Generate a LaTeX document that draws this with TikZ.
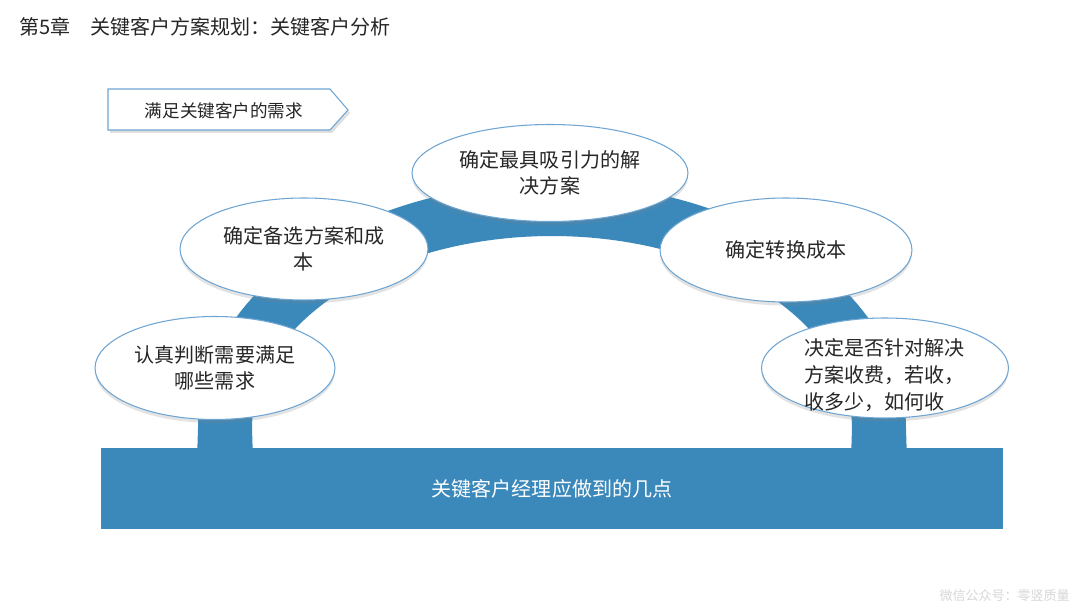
\documentclass[tikz,border=0pt]{standalone}
\usepackage{fontspec}
\setmainfont{Noto Sans CJK SC}
\usetikzlibrary{shapes.geometric,shapes.symbols,shadows}
\definecolor{mainblue}{RGB}{59,137,187}
\definecolor{edgeblue}{RGB}{110,165,210}
\definecolor{wmgray}{RGB}{215,215,215}
\begin{document}
\begin{tikzpicture}[x=0.02cm,y=-0.02cm,
  bubble/.style={ellipse,draw=edgeblue,line width=0.6pt,fill=white,
    inner sep=0pt,
    drop shadow={shadow xshift=0pt,shadow yshift=-2pt,opacity=0.22,fill=gray},
    font=\fontsize{11.4pt}{14.8pt}\selectfont,align=center,text=black!85},
  title/.style={anchor=west,font=\fontsize{11.4pt}{13pt}\selectfont,text=black!85}]
\useasboundingbox (0,0) rectangle (1080,608);
\fill[white] (0,0) rectangle (1080,608);
% title
\node[title] (ttl) at (13,27) {第5章　关键客户方案规划：关键客户分析};
% pentagon tag
\fill[gray,opacity=0.25] (110,92) -- (332,92) -- (350,113) -- (332,133) -- (110,133) -- cycle;
\draw[edgeblue,fill=white,line width=0.6pt] (108,89) -- (330,89) -- (348,110) -- (330,130) -- (108,130) -- cycle;
\node[font=\fontsize{10pt}{12pt}\selectfont,text=black!85] (tag) at (224,111) {满足关键客户的需求};
% arch band
\fill[mainblue] (197,460) -- (198,428)
  -- plot[domain=180:0,samples=90] ({552+354*cos(\x)},{428-245*sin(\x)})
  -- (907,460) -- (851,460) -- (852,428)
  -- plot[domain=0:180,samples=90] ({552+300*cos(\x)},{428-192*sin(\x)})
  -- (253,460) -- cycle;
% bottom bar
\fill[mainblue] (101,448) rectangle (1003,529);
\node[text=white,font=\fontsize{11.4pt}{13pt}\selectfont] (bar) at (552,489) {关键客户经理应做到的几点};
% bubbles
\node[bubble,minimum width=4.8cm,minimum height=2.06cm] (e1) at (215,368) {认真判断需要满足\\哪些需求};
\node[bubble,minimum width=4.96cm,minimum height=2.04cm] (e2) at (304,249) {确定备选方案和成\\本};
\node[bubble,minimum width=5.52cm,minimum height=1.94cm] (e3) at (550,173) {确定最具吸引力的解\\决方案};
\node[bubble,minimum width=5.04cm,minimum height=2.08cm] (e4) at (786,250) {确定转换成本};
\node[bubble,minimum width=4.94cm,minimum height=2.0cm] (e5) at (885,368) {};
\node[anchor=west,align=left,font=\fontsize{11.4pt}{15.5pt}\selectfont,text=black!85,inner sep=0pt] (e5t) at (804,375) {决定是否针对解决\\方案收费，若收，\\收多少，如何收};
% watermark
\node[anchor=east,text=wmgray,font=\fontsize{7.4pt}{9pt}\selectfont,inner sep=0pt] (wm) at (1070,596) {微信公众号：零竖质量};
\end{tikzpicture}
\end{document}
